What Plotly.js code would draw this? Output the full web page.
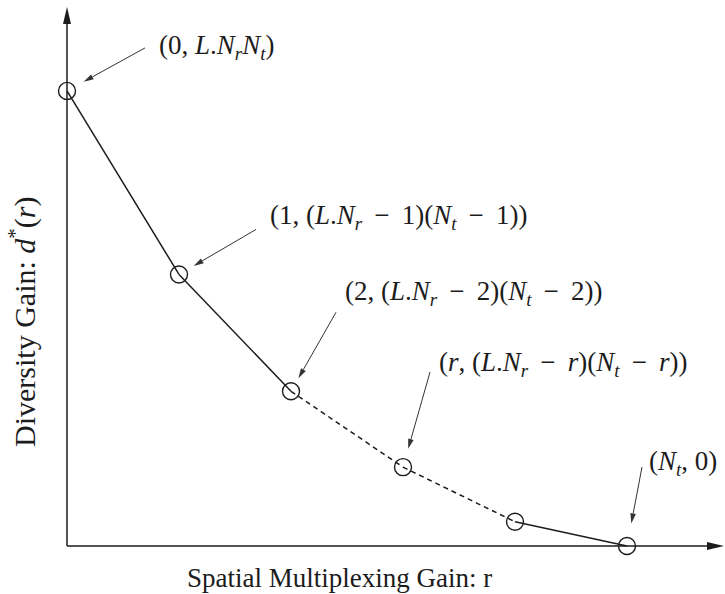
<!DOCTYPE html>
<html><head><meta charset="utf-8">
<script src="https://cdn.plot.ly/plotly-3.0.1.min.js"></script>
<style>html,body{margin:0;padding:0;background:#fff;}</style>
</head><body><div id="chart" style="width:725px;height:594px;"></div>
<script>
// ---- data ----
const r = [0, 1, 2, 3, 4, 5];                 // spatial multiplexing gain
const d = [30, 17.9, 10.2, 5.2, 1.6, 0];      // diversity gain d*(r)
const segmentStyle = ['solid', 'solid', 'dash', 'dash', 'solid'];
const labeledPoints = [0, 1, 2, 3, 5];
const M = '\u00a0\u2009\u2212\u2009\u00a0';   // spaced minus sign
const pointLabels = [
  '(0, <i>L</i>.<i>N</i><sub><i>r</i></sub><i>N</i><sub><i>t</i></sub>)',
  '(1, (<i>L</i>.<i>N</i><sub><i>r</i></sub>' + M + '1)(<i>N</i><sub><i>t</i></sub>' + M + '1))',
  '(2, (<i>L</i>.<i>N</i><sub><i>r</i></sub>' + M + '2)(<i>N</i><sub><i>t</i></sub>' + M + '2))',
  '(<i>r</i>, (<i>L</i>.<i>N</i><sub><i>r</i></sub>' + M + '<i>r</i>)(<i>N</i><sub><i>t</i></sub>' + M + '<i>r</i>))',
  '(<i>N</i><sub><i>t</i></sub>, 0)'
];
const xTitle = 'Spatial Multiplexing Gain: r';
const yTitle = 'Diversity Gain: <i>d</i><sup>*</sup>(<i>r</i>)';

// ---- layout helpers (positions in figure pixels) ----
const W = 725, H = 594;
const X0 = 67, Y0 = 546, PXX = 112, PXY = 15.17;
const px2x = p => (p - X0) / PXX;
const px2y = p => (Y0 - p) / PXY;
const labelPos = [[157, 47], [268, 217], [343, 293], [437, 364], [647, 463]];
const arrowOff = [[78, -43, 19], [77, -45, 17], [45, -79, 15], [27, -95, 19], [15, -79, 23]];
const ink = '#1c1c1c';
const FONT = 'Liberation Serif';

const traces = [];
for (let i = 0; i < segmentStyle.length; i++) {
  traces.push({
    x: [r[i], r[i + 1]], y: [d[i], d[i + 1]], mode: 'lines', type: 'scatter',
    line: {color: ink, width: 1.5, dash: segmentStyle[i] === 'dash' ? '5px,4px' : 'solid'},
    hoverinfo: 'skip', showlegend: false, cliponaxis: false
  });
}
traces.push({
  x: r, y: d, mode: 'markers', type: 'scatter', cliponaxis: false,
  marker: {symbol: 'circle-open', size: 17, color: ink, line: {width: 1.4, color: ink}},
  showlegend: false
});

const annotations = [];
const shapes = [];
labeledPoints.forEach((pi, k) => {
  annotations.push({
    xref: 'paper', yref: 'paper', x: labelPos[k][0] / W, y: 1 - labelPos[k][1] / H,
    xanchor: 'left', yanchor: 'middle', showarrow: false, text: pointLabels[k],
    font: {family: FONT, size: 27, color: ink}
  });
  // pointer arrow: from tail (offset) to a tip just outside the point's circle
  const px = X0 + PXX * r[pi], py = Y0 - PXY * d[pi];
  const [ox, oy, so] = arrowOff[k];
  const len = Math.hypot(ox, oy), ux = ox / len, uy = oy / len;
  const tx = px + ux * so, ty = py + uy * so;          // tip
  const bx = tx + ux * 10, by = ty + uy * 10;          // base centre of head
  const nx = -uy * 2.8, ny = ux * 2.8;
  shapes.push({type: 'line', xref: 'x', yref: 'y', x0: px2x(px + ox), y0: px2y(py + oy),
    x1: px2x(bx), y1: px2y(by), line: {color: '#333', width: 1}});
  shapes.push({type: 'path', xref: 'x', yref: 'y', fillcolor: '#333', line: {width: 0},
    path: `M${px2x(tx)},${px2y(ty)} L${px2x(bx + nx)},${px2y(by + ny)} L${px2x(bx - nx)},${px2y(by - ny)} Z`});
});
annotations.push({
  xref: 'paper', yref: 'paper', x: 339 / W, y: 1 - 578 / H, xanchor: 'center', yanchor: 'middle',
  showarrow: false, text: xTitle, font: {family: FONT, size: 27, color: ink}
});
annotations.push({
  xref: 'paper', yref: 'paper', x: 22 / W, y: 1 - 322 / H, xanchor: 'center', yanchor: 'middle',
  showarrow: false, text: yTitle, textangle: -90, font: {family: FONT, size: 30, color: ink}
});

shapes.push(
  {type: 'line', xref: 'x', yref: 'y', x0: 0, y0: 0, x1: 0, y1: px2y(20), line: {color: ink, width: 1.5}},
  {type: 'line', xref: 'x', yref: 'y', x0: 0, y0: 0, x1: px2x(712), y1: 0, line: {color: ink, width: 1.5}},
  {type: 'path', xref: 'x', yref: 'y', xsizemode: 'pixel', ysizemode: 'pixel',
   xanchor: 0, yanchor: px2y(7), path: 'M-4,-17 L0,0 L4,-17 Z', fillcolor: ink, line: {width: 0}},
  {type: 'path', xref: 'x', yref: 'y', xsizemode: 'pixel', ysizemode: 'pixel',
   xanchor: px2x(724), yanchor: 0, path: 'M-17,-4 L0,0 L-17,4 Z', fillcolor: ink, line: {width: 0}}
);

const layout = {
  width: W, height: H, margin: {l: 0, r: 0, t: 0, b: 0},
  paper_bgcolor: '#fff', plot_bgcolor: '#fff',
  font: {family: FONT},
  xaxis: {range: [px2x(0), px2x(W)], visible: false, fixedrange: true},
  yaxis: {range: [px2y(H), px2y(0)], visible: false, fixedrange: true},
  annotations, shapes, showlegend: false
};
Plotly.newPlot('chart', traces, layout, {staticPlot: true, displayModeBar: false});
</script></body></html>
